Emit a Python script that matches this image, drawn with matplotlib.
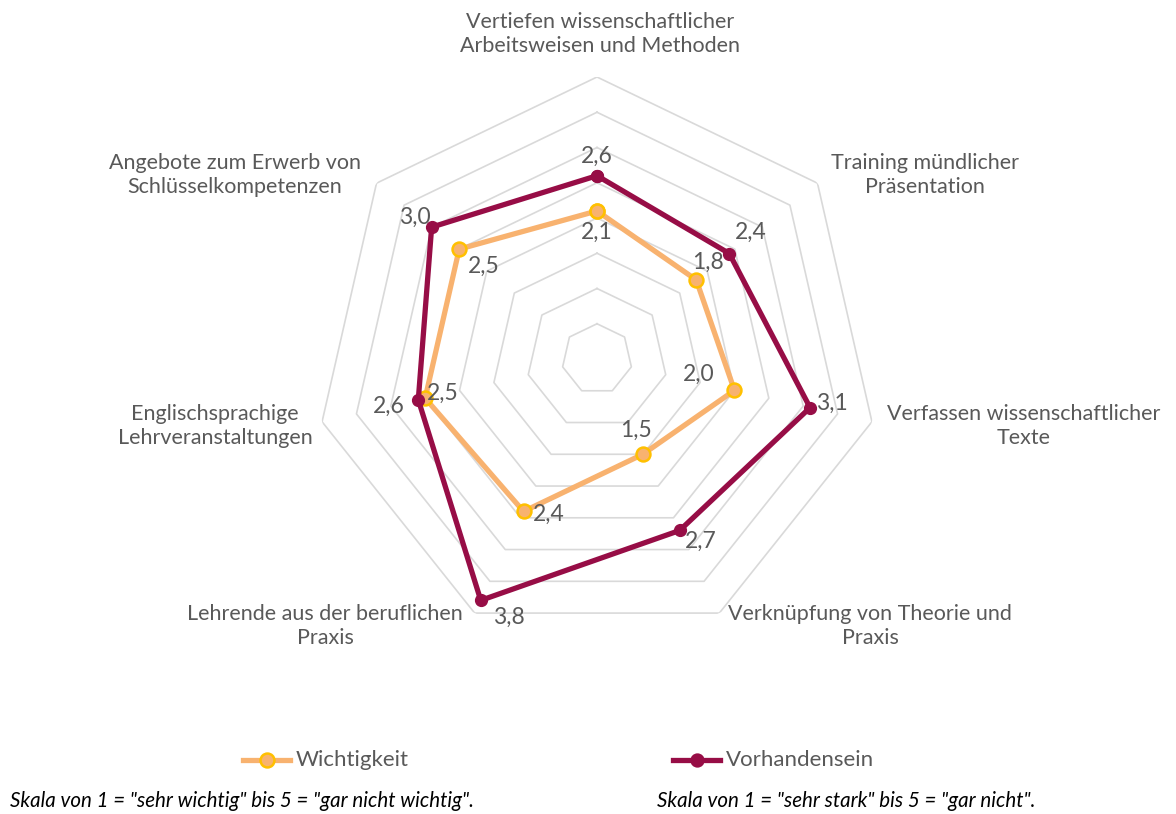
import numpy as np
import matplotlib.pyplot as plt

plt.rcParams['font.family'] = ['Lato', 'DejaVu Sans']

# --- data ---
categories = [
    "Vertiefen wissenschaftlicher\nArbeitsweisen und Methoden",
    "Training mündlicher\nPräsentation",
    "Verfassen wissenschaftlicher\nTexte",
    "Verknüpfung von Theorie und\nPraxis",
    "Lehrende aus der beruflichen\nPraxis",
    "Englischsprachige\nLehrveranstaltungen",
    "Angebote zum Erwerb von\nSchlüsselkompetenzen",
]
wichtigkeit = [2.1, 1.8, 2.0, 1.5, 2.4, 2.5, 2.5]
vorhandensein = [2.6, 2.4, 3.1, 2.7, 3.8, 2.6, 3.0]
series_names = ["Wichtigkeit", "Vorhandensein"]
notes = ['Skala von 1 = "sehr wichtig" bis 5 = "gar nicht wichtig".',
         'Skala von 1 = "sehr stark" bis 5 = "gar nicht".']
ring_levels = np.arange(0.5, 4.01, 0.5)

# --- styling / layout ---
W, H = 1176, 814
C_W_LINE = '#F8B26F'
C_W_EDGE = '#FFC000'
C_V = '#970D46'
C_TXT = '#595959'
C_GRID = '#D9D9D9'

cx, cy, rpx = 597, 359, 282  # centre and outer radius in pixels

fig = plt.figure(figsize=(W / 100, H / 100), dpi=100)
ax = fig.add_axes([(cx - rpx) / W, (H - cy - rpx) / H, 2 * rpx / W, 2 * rpx / H], polar=True)
ax.set_theta_zero_location('N')
ax.set_theta_direction(-1)
ax.set_ylim(0, 4)
ax.set_xticks([])
ax.set_yticks([])
ax.grid(False)
ax.spines['polar'].set_visible(False)

n = len(categories)
angles = np.linspace(0, 2 * np.pi, n, endpoint=False)
closed = np.append(angles, angles[0])

# heptagon grid (no spokes, like the original)
for lvl in ring_levels:
    ax.plot(closed, [lvl] * (n + 1), color=C_GRID, lw=1.2, zorder=1)

ax.plot(closed, wichtigkeit + wichtigkeit[:1], color=C_W_LINE, lw=3.8, zorder=3,
        marker='o', ms=10, mfc=C_W_LINE, mec=C_W_EDGE, mew=1.8, solid_joinstyle='miter')
ax.plot(closed, vorhandensein + vorhandensein[:1], color=C_V, lw=3.8, zorder=4,
        marker='o', ms=8.5, mfc=C_V, mec=C_V, solid_joinstyle='miter')

# data label offsets (pixels)
off_w = [(0, -21), (12, 18), (-36, 16), (-7, 24), (25, -3), (18, 5), (25, -17)]
off_v = [(0, 19), (21, 21), (22, 4), (21, -11), (28, -17), (-29, -7), (-17, 10)]
for a, v, (dx, dy) in zip(angles, wichtigkeit, off_w):
    ax.annotate(f"{v:.1f}".replace('.', ','), (a, v), xytext=(dx, dy), textcoords='offset pixels',
                ha='center', va='center', fontsize=16.5, color=C_TXT, zorder=6)
for a, v, (dx, dy) in zip(angles, vorhandensein, off_v):
    ax.annotate(f"{v:.1f}".replace('.', ','), (a, v), xytext=(dx, dy), textcoords='offset pixels',
                ha='center', va='center', fontsize=16.5, color=C_TXT, zorder=6)

# category labels
cat_pos = [(600, 34), (925, 175), (1024, 426), (870, 626), (325, 626), (215, 426), (235, 175)]
for lab, (x, y) in zip(categories, cat_pos):
    fig.text(x / W, 1 - y / H, lab, ha='center', va='center', fontsize=15.5,
             color=C_TXT, linespacing=1.3)

# legend
leg = [(243, 760, C_W_LINE, C_W_EDGE), (673, 760, C_V, C_V)]
for name, (x, y, lc, ec) in zip(series_names, leg):
    fig.lines.append(plt.Line2D([x / W, (x + 47) / W], [1 - y / H] * 2, transform=fig.transFigure,
                                color=lc, lw=3.8))
    fig.lines.append(plt.Line2D([(x + 23.5) / W], [1 - y / H], transform=fig.transFigure,
                                marker='o', ms=10 if lc == C_W_LINE else 8.5,
                                mfc=lc, mec=ec, mew=1.8, lw=0))
    fig.text((x + 53) / W, 1 - y / H, name, ha='left', va='center', fontsize=16, color=C_TXT)

# scale notes
fig.text(10 / W, 1 - 801 / H, notes[0], ha='left', va='center', fontsize=14.8,
         style='italic', color='black')
fig.text(657 / W, 1 - 801 / H, notes[1], ha='left', va='center', fontsize=14.8,
         style='italic', color='black')

fig.savefig('out.png', dpi=100, facecolor='white')
